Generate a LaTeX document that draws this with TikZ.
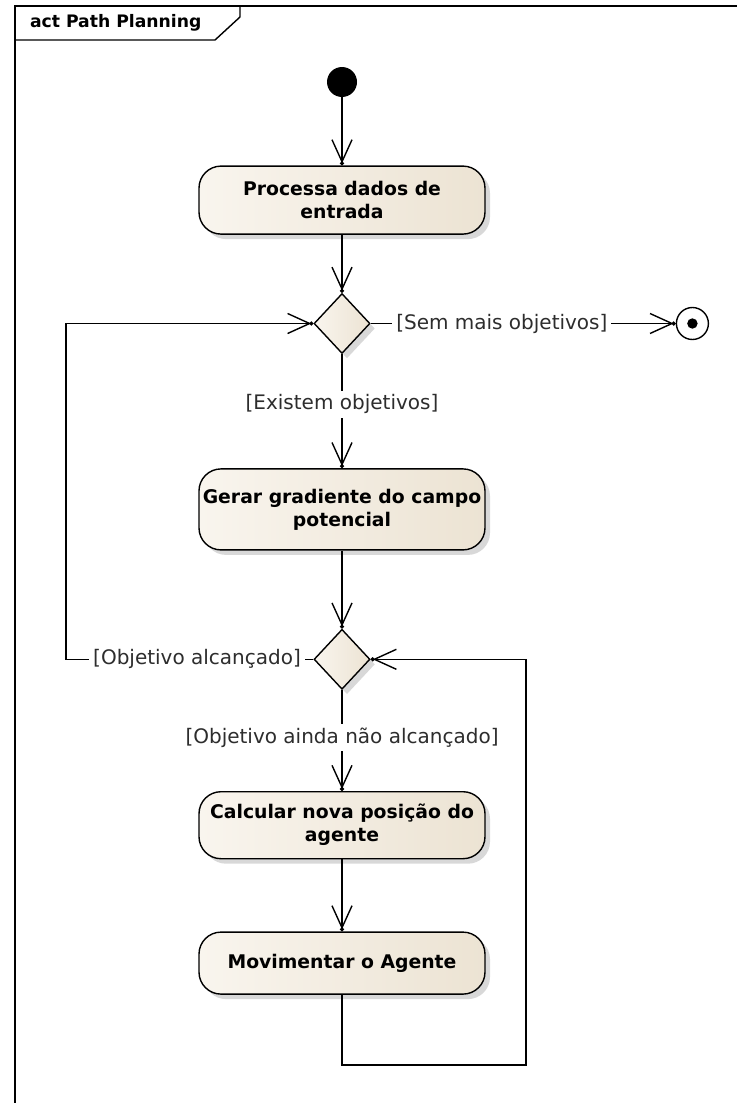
\documentclass[tikz,border=0pt]{standalone}
\usepackage{fontspec}
\setmainfont{DejaVu Sans}
\usepackage{tikz}
\usetikzlibrary{
	arrows.meta,
	calc,
	positioning,
	shapes,
	shadows,
	}

\definecolor{actlight}{RGB}{249,245,238}
\definecolor{actdark}{RGB}{236,227,211}
\definecolor{guardtext}{RGB}{45,45,45}

\tikzset{
	action/.style={draw, line width=0.7pt, rounded corners=11pt, minimum width=143pt, minimum height=33pt,
		inner xsep=1pt, align=center, font=\fontsize{9.4pt}{11.5pt}\selectfont\bfseries,
		left color=actlight, right color=actdark,
		drop shadow={shadow xshift=2.5pt, shadow yshift=-2.5pt, fill=black!30}},
	decision/.style={draw, diamond, line width=0.7pt, minimum width=28pt, minimum height=30pt, inner sep=0pt,
		left color=actlight, right color=actdark,
		drop shadow={shadow xshift=2.5pt, shadow yshift=-2.5pt, fill=black!30}},
	startdot/.style={circle, fill=black, minimum size=15pt, inner sep=0pt},
	enddot/.style={draw, circle, line width=0.7pt, minimum size=16pt, inner sep=0pt,
		path picture={\fill (path picture bounding box.center) circle (2.6pt);}},
	flow/.style={line width=0.7pt, -{Straight Barb[length=11pt, width=10pt, sep=-1pt] Circle[length=2pt]}},
	guard/.style={fill=white, inner sep=2pt, text=guardtext, font=\fontsize{10pt}{12pt}\selectfont},
}

\begin{document}
\begin{tikzpicture}[x=0.5pt, y=-0.5pt]
		\useasboundingbox (0,0) rectangle (737,1103);
		% frame
		\draw[line width=1pt] (15,1103) -- (15,6) -- (737,6);
		\draw[line width=0.7pt] (15,40) -- (215,40) -- (240,17) -- (240,6);
		\node[anchor=west, font=\fontsize{8.6pt}{10pt}\selectfont\bfseries] (title) at (23,23) {act Path Planning};

		\node[startdot] (start) at (342,82) {};
		\node[action, below = 34pt of start, minimum height=34pt] (proc) {Processa dados de\\entrada};
		\node[decision, below = 29pt of proc] (dec1) {};
		\node[enddot, right = 152.5pt of dec1] (stop) {};
		\node[action, below = 57pt of dec1, minimum height=40.5pt] (grad) {Gerar gradiente do campo\\potencial};
		\node[decision, below = 39pt of grad] (dec2) {};
		\node[action, below = 50.5pt of dec2, minimum height=33.5pt] (calc) {Calcular nova posição do\\agente};
		\node[action, below = 36pt of calc, minimum height=31pt] (move) {Movimentar o Agente};
		\coordinate (backleft) at (66,0);
		\coordinate (backright) at (526,1065);

		\draw[flow] (start) -- (proc);
		\draw[flow] (proc) -- (dec1);
		\draw[flow] (dec1) -- node[guard, pos=0.43] {[Sem mais objetivos]} (stop);
		\draw[flow] (dec1) -- node[guard, pos=0.44] {[Existem objetivos]} (grad);
		\draw[flow] (grad) -- (dec2);
		\draw[flow] (dec2) -- node[guard, pos=0.47] {[Objetivo ainda não alcançado]} (calc);
		\draw[flow] (calc) -- (move);
		\draw[flow] (dec2.west) -- node[guard, pos=0.47] {[Objetivo alcançado]} (dec2.west -| backleft) |- (dec1.west);
		\draw[flow] (move.south) |- (backright) |- (dec2.east);
	\end{tikzpicture}
\end{document}
